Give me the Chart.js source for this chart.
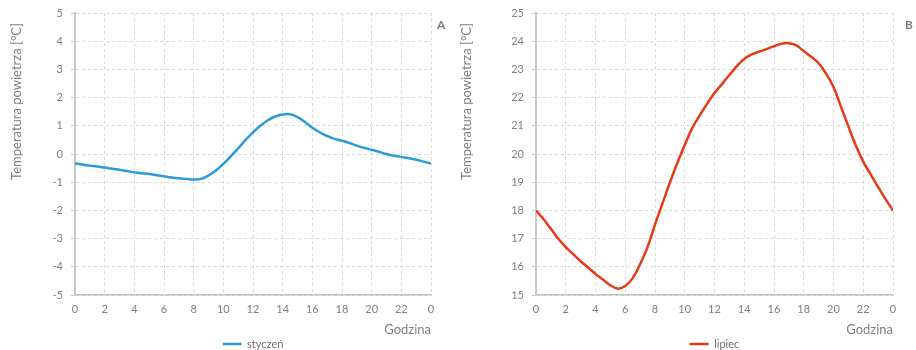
<!DOCTYPE html>
<html>
<head>
  <meta charset="UTF-8">
  <title>Temperatura powietrza</title>
  <style>
    body {
      margin: 0;
      background: #fff;
      font-family: Lato, sans-serif;
      overflow: hidden;
    }
    .panel {
      position: absolute;
      top: 0;
      width: 458px;
      height: 350px;
    }
    .tag {
      position: absolute;
      top: 17px;
      font-weight: bold;
      font-size: 12px;
      color: #7f7f7f;
    }
  </style>
</head>
<body>
  <div class="panel" style="left:0"><canvas id="wykresA" width="458" height="350"></canvas></div>
  <div class="panel" style="left:458px"><canvas id="wykresB" width="458" height="350"></canvas></div>
  <div class="tag" style="left:437px">A</div>
  <div class="tag" style="left:905px">B</div>

  <script src="https://cdn.jsdelivr.net/npm/chart.js"></script>
  <script>
    // godziny co pół godziny (0..24)
    var godziny = [0, 0.5, 1, 1.5, 2, 2.5, 3, 3.5, 4, 4.5, 5, 5.5, 6, 6.5, 7, 7.5, 8, 8.5, 9, 9.5,
      10, 10.5, 11, 11.5, 12, 12.5, 13, 13.5, 14, 14.5, 15, 15.5, 16, 16.5, 17, 17.5, 18, 18.5, 19, 19.5,
      20, 20.5, 21, 21.5, 22, 22.5, 23, 23.5, 24];

    var styczen = [-0.33, -0.37, -0.41, -0.44, -0.48, -0.52, -0.56, -0.60, -0.65, -0.68,
      -0.71, -0.75, -0.79, -0.83, -0.86, -0.88, -0.90, -0.88, -0.76, -0.58,
      -0.35, -0.08, 0.20, 0.50, 0.77, 1.00, 1.20, 1.33, 1.40, 1.41,
      1.31, 1.14, 0.93, 0.77, 0.64, 0.54, 0.47, 0.39, 0.30, 0.22,
      0.15, 0.08, 0.00, -0.06, -0.10, -0.15, -0.20, -0.27, -0.34];

    var lipiec = [18.0, 17.7, 17.35, 17.0, 16.7, 16.45, 16.2, 15.98, 15.75, 15.55,
      15.35, 15.23, 15.32, 15.6, 16.1, 16.7, 17.5, 18.24, 18.99, 19.68,
      20.32, 20.92, 21.36, 21.78, 22.16, 22.48, 22.8, 23.12, 23.37, 23.53,
      23.63, 23.72, 23.82, 23.91, 23.93, 23.85, 23.65, 23.45, 23.22, 22.85,
      22.38, 21.68, 20.98, 20.3, 19.73, 19.28, 18.83, 18.4, 18.0];

    var tytulY = 'Temperatura powietrza [°C]   ';
    var tytulX = 'Godzina';

    var szary = '#7f7f7f';
    var siatka = '#d9d9d9';

    function punkty(wartosci) {
      return godziny.map(function (h, i) { return { x: h, y: wartosci[i] }; });
    }

    function wykres(id, nazwa, wartosci, kolor, yMin, yMax, padLewy, szerY, padPrawy) {
      var ctx = document.getElementById(id).getContext('2d');
      return new Chart(ctx, {
        type: 'line',
        data: {
          datasets: [{
            label: nazwa,
            data: punkty(wartosci),
            borderColor: kolor,
            backgroundColor: kolor,
            borderWidth: 2.5,
            pointRadius: 0,
            tension: 0.4
          }]
        },
        options: {
          responsive: false,
          animation: false,
          layout: { padding: { left: padLewy, right: padPrawy, top: 13, bottom: -9.5 } },
          plugins: {
            legend: {
              position: 'bottom',
              fullSize: false,
              labels: {
                usePointStyle: true,
                pointStyle: 'line',
                pointStyleWidth: 19,
                boxHeight: 3,
                padding: 0,
                color: '#6f6f6f',
                font: { family: 'Lato', size: 11 }
              }
            },
            tooltip: { enabled: false }
          },
          scales: {
            x: {
              type: 'linear',
              min: 0,
              max: 24,
              ticks: {
                stepSize: 2,
                padding: 8,
                color: szary,
                font: { family: 'Lato', size: 11 },
                callback: function (v) { return v % 24; }
              },
              grid: { color: siatka, drawTicks: false },
              border: { color: '#bfbfbf', width: 1.5, dash: [3, 3] },
              title: {
                display: true,
                text: tytulX,
                align: 'end',
                color: szary,
                font: { family: 'Lato', size: 13, lineHeight: 1 },
                padding: { top: 0, bottom: 2 }
              },
              afterFit: function (scale) { scale.height = 43.4; }
            },
            y: {
              min: yMin,
              max: yMax,
              ticks: {
                stepSize: 1,
                padding: 8,
                color: szary,
                font: { family: 'Lato', size: 11 }
              },
              grid: { color: siatka, drawTicks: true, tickLength: 4, tickColor: '#c8c8c8' },
              border: { color: '#c8c8c8', width: 2, dash: [3, 3] },
              title: {
                display: true,
                text: tytulY,
                align: 'end',
                color: szary,
                font: { family: 'Lato', size: 13 },
                padding: { top: 0, bottom: 0 }
              },
              afterFit: function (scale) {
                scale.width = szerY;
                scale.paddingTop = 0;
                scale.paddingBottom = 0;
              }
            }
          }
        }
      });
    }

    wykres('wykresA', 'styczeń', styczen, '#2a9dd8', -5, 5, 9, 66, 27);
    wykres('wykresB', 'lipiec', lipiec, '#e8391a', 15, 25, 1, 77, 23);
  </script>
</body>
</html>
